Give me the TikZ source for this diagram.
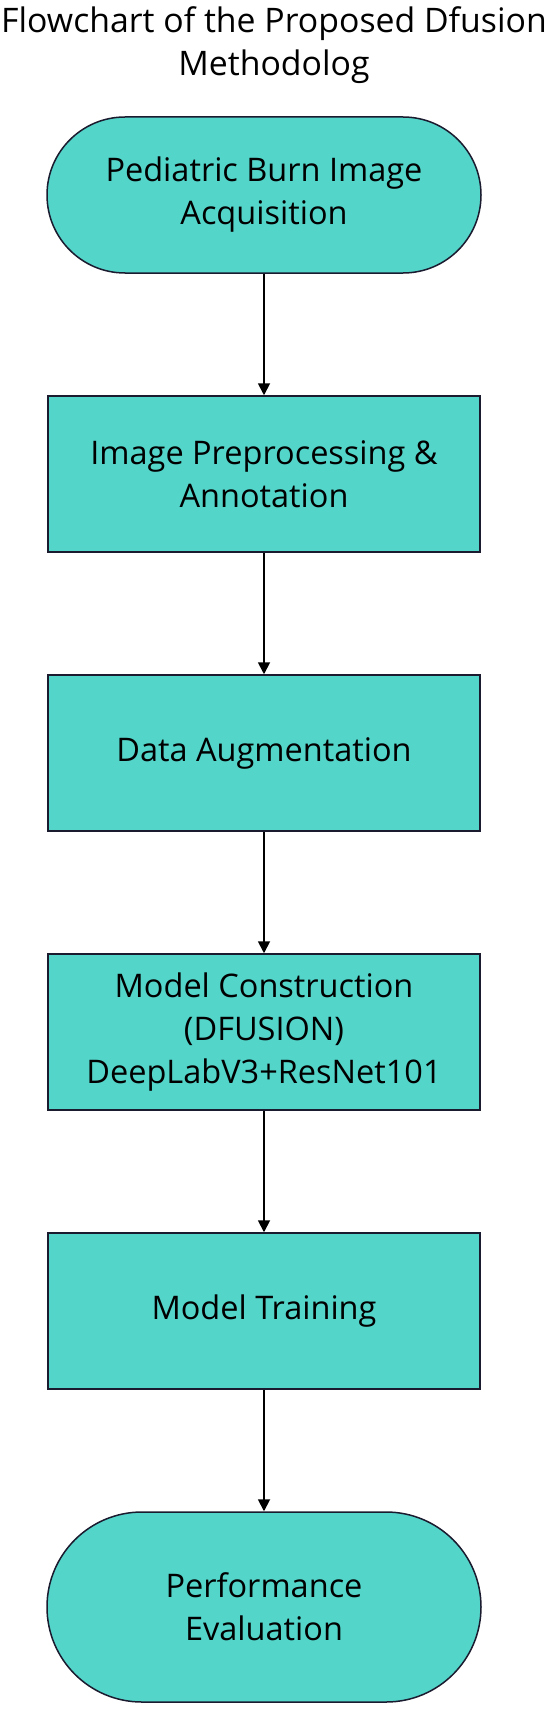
\documentclass[tikz,border=0pt]{standalone}
\usepackage{fontspec}
\setmainfont{Open Sans}
\usepackage{xcolor}
\usetikzlibrary{positioning, arrows.meta}
\definecolor{boxfill}{HTML}{53D5CA}
\definecolor{boxline}{HTML}{1B1B2F}

\begin{document}
\begin{tikzpicture}[x=1pt, y=1pt, node distance=279pt, on grid,
    >={Triangle[length=12pt, width=12pt]},
    stepbox/.style={draw=boxline, fill=boxfill, line width=1.5pt, minimum width=432pt,
        minimum height=156pt, align=center, font=\fontsize{32.5}{43}\selectfont},
    terminal/.style={stepbox, rounded corners=78pt, minimum width=434pt}]
    \useasboundingbox (0,0) rectangle (552,-1712);
    \node[align=center, font=\fontsize{33.8}{43}\selectfont] (title) at (274,-45)
        {Flowchart of the Proposed Dfusion\\Methodolog};

    \node[terminal] (acq) at (264,-195) {Pediatric Burn Image\\Acquisition};
    \node[stepbox, below=of acq] (prep) {Image Preprocessing \&\\Annotation};
    \node[stepbox, below=of prep] (aug) {Data Augmentation};
    \node[stepbox, below=of aug] (model) {Model Construction\\(DFUSION)\\DeepLabV3+ResNet101};
    \node[stepbox, below=of model] (train) {Model Training};
    \node[terminal, minimum height=190pt, rounded corners=95pt, below=296pt of train] (eval)
        {Performance\\Evaluation};

    \path[->, line width=1.8pt]
        (acq) edge (prep)
        (prep) edge (aug)
        (aug) edge (model)
        (model) edge (train)
        (train) edge (eval);
\end{tikzpicture}
\end{document}
